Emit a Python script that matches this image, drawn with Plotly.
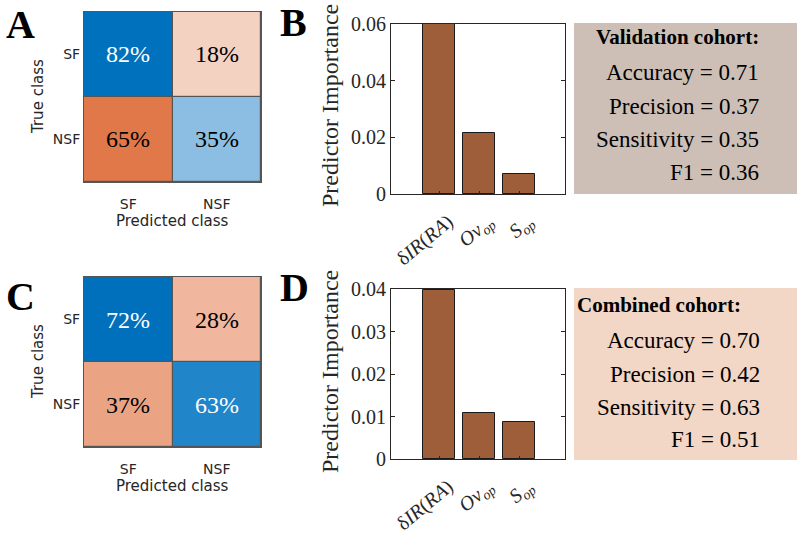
import plotly.graph_objects as go

# ---------------- data ----------------
classes = ["SF", "NSF"]
conf_a = [[82, 18], [65, 35]]
conf_c = [[72, 28], [37, 63]]
# cell colours (row-major), as in the MATLAB confusion chart
colors_a = ["#0072bd", "#f3d2c2", "#e0784a", "#8bbee2"]
colors_c = ["#0070bc", "#f0b79e", "#eaa484", "#2085c9"]

predictors = ["δ<i>IR</i>(<i>RA</i>)", "<i>Ov</i><sub><i>op</i></sub>", "<i>S</i><sub><i>op</i></sub>"]
pred_pos = [1, 2, 3]
imp_b = [0.0615, 0.0215, 0.0071]
imp_d = [0.0398, 0.0108, 0.0087]

metric_names = ["Accuracy", "Precision", "Sensitivity", "F1"]
metrics_val = [0.71, 0.37, 0.35, 0.36]
metrics_comb = [0.70, 0.42, 0.63, 0.51]

W, H = 800, 533
BAR_COLOR = "#9f5e3a"
SANS = "DejaVu Sans"
SERIF = "Liberation Serif"
GREY_TXT = "#262626"


def px(x):
    return x / W


def py(y):
    return 1 - y / H


fig = go.Figure()
shapes = []
annotations = []


def label(text, x, y, size, family, angle=0, color=GREY_TXT, xanchor="center"):
    annotations.append(dict(x=px(x), y=py(y), xref="paper", yref="paper",
                            text=text, showarrow=False, textangle=angle,
                            xanchor=xanchor, yanchor="middle",
                            font=dict(family=family, size=size, color=color)))


# ================== confusion matrices ================== #
def add_confusion(conf, colors, ax, top, bottom):
    xa = "x" if ax == 1 else f"x{ax}"
    ya = "y" if ax == 1 else f"y{ax}"
    idx = [[0, 1], [2, 3]]
    scale = []
    for i, c in enumerate(colors):
        scale.append([i / 4, c])
        scale.append([(i + 1) / 4, c])
    fig.add_trace(go.Heatmap(
        z=idx, x=classes, y=classes, zmin=-0.5, zmax=3.5,
        colorscale=scale, showscale=False, xgap=1.2, ygap=1.2,
        hoverinfo="skip", xaxis=xa, yaxis=ya
    ))
    # dark background for the grid lines between cells
    shapes.append(dict(type="rect", xref=f"{xa} domain", yref=f"{ya} domain",
                       x0=0, x1=1, y0=0, y1=1, fillcolor="#555555",
                       line_width=0, layer="below"))
    for r in range(2):
        for c in range(2):
            dark = colors[r * 2 + c] in (colors_a[0], colors_c[0], colors_c[3])
            annotations.append(dict(
                x=classes[c], y=classes[r], xref=xa, yref=ya,
                text=f"{conf[r][c]}%", showarrow=False,
                font=dict(family=SERIF, size=24, color="white" if dark else "black")
            ))
    common = dict(showgrid=False, zeroline=False, showline=True, linecolor="#555555",
                  linewidth=1, mirror=True, automargin=False,
                  tickfont=dict(family=SANS, size=14, color=GREY_TXT))
    fig.layout[xa.replace("x", "xaxis")] = dict(
        domain=[px(84), px(261)], anchor=ya, ticks="outside", ticklen=9,
        tickcolor="rgba(0,0,0,0)", **common)
    fig.layout[ya.replace("y", "yaxis")] = dict(
        domain=[py(bottom), py(top)], anchor=xa, autorange="reversed",
        ticks="", **common)
    label("Predicted class", 172, bottom + 39, 15, SANS)
    label("True class", 38, (top + bottom) / 2, 15, SANS, angle=-90)


add_confusion(conf_a, colors_a, 1, 12, 182)
add_confusion(conf_c, colors_c, 3, 277, 447)


# ================== predictor importance ================== #
def add_importance(vals, ax, top, bottom, ymax, dtick, title_y):
    xa, ya = f"x{ax}", f"y{ax}"
    fig.add_trace(go.Bar(
        x=pred_pos, y=vals, width=0.8, marker_color=BAR_COLOR,
        marker_line=dict(color="#1a1a1a", width=1),
        hoverinfo="skip", xaxis=xa, yaxis=ya
    ))
    fig.layout[f"xaxis{ax}"] = dict(
        domain=[px(391), px(565)], anchor=ya, range=[-0.2, 4.15],
        tickvals=pred_pos, ticktext=predictors, tickangle=-40,
        ticklabelshift=9, ticklabelstandoff=7,
        showline=True, mirror=True, linecolor=GREY_TXT, linewidth=1,
        ticks="inside", ticklen=3, tickcolor=GREY_TXT, automargin=False,
        showgrid=False, zeroline=False,
        tickfont=dict(family=SERIF, size=20, color=GREY_TXT)
    )
    fig.layout[f"yaxis{ax}"] = dict(
        domain=[py(bottom), py(top)], anchor=xa, range=[0, ymax], dtick=dtick,
        showline=True, mirror="ticks", linecolor=GREY_TXT, automargin=False,
        linewidth=1, ticks="inside", ticklen=4, tickcolor=GREY_TXT,
        showgrid=False, zeroline=False,
        tickfont=dict(family=SERIF, size=20, color=GREY_TXT)
    )
    label("Predictor Importance", 330, title_y, 24, SERIF, angle=-90)


add_importance(imp_b, 2, 24, 194, 0.06, 0.02, 106)
add_importance(imp_d, 4, 289, 459, 0.04, 0.01, 372)


# ================== metric boxes ================== #
def add_box(title, vals, fill, top, bottom, title_y, title_x, line_ys, right):
    shapes.append(dict(type="rect", xref="paper", yref="paper",
                       x0=px(574), x1=px(797), y0=py(bottom), y1=py(top),
                       fillcolor=fill, line_width=0, layer="below"))
    label(f"<b>{title}</b>", title_x, title_y, 21, SERIF, color="black", xanchor="left")
    for name, v, yy in zip(metric_names, vals, line_ys):
        label(f"{name} = {v:.2f}", right, yy, 23, SERIF, color="black", xanchor="right")


add_box("Validation cohort:", metrics_val, "#cdbfb6", 23, 194, 37, 594,
        [73, 106, 139, 172], 761)
add_box("Combined cohort:", metrics_comb, "#f2d6c6", 288, 460, 305, 575,
        [341, 374, 407, 439], 762)

# panel letters
for letter, x, y in [("A", 4, 24), ("B", 278, 22), ("C", 4, 296), ("D", 278, 287)]:
    label(f"<b>{letter}</b>", x, y, 40, SERIF, color="black", xanchor="left")

fig.update_layout(
    width=W, height=H, margin=dict(l=0, r=0, t=0, b=0),
    paper_bgcolor="white", plot_bgcolor="white", showlegend=False,
    shapes=shapes, annotations=annotations, bargap=0
)

# the page's default body margin would shift the figure by 8px
fig.write_html("out.html", config={"displayModeBar": False},
               post_script="document.body.style.margin='0';document.body.style.overflow='hidden';")
